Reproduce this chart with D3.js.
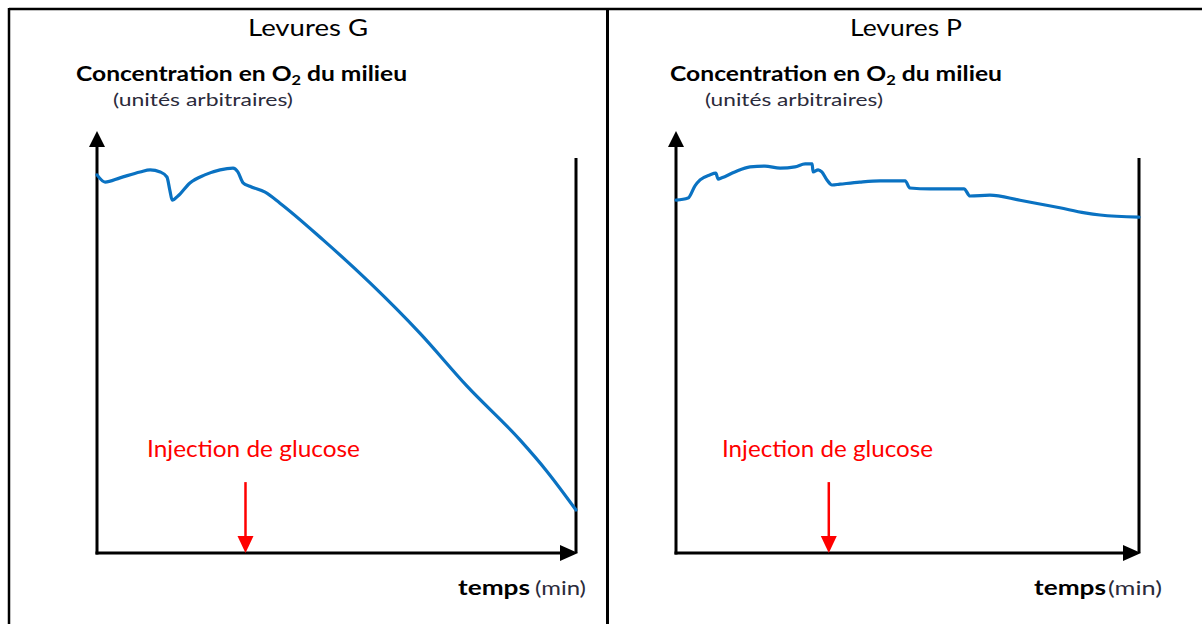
<!DOCTYPE html>
<html>
<head>
<meta charset="utf-8">
<script src="https://cdn.jsdelivr.net/npm/d3@7"></script>
<style>
  html, body { margin: 0; padding: 0; background: #fff; }
  svg { display: block; font-family: Lato, "Open Sans", sans-serif; }
</style>
</head>
<body>
<svg id="chart" width="1202" height="624"></svg>
<script>
// Levures G : concentration en O2 (unités arbitraires) en fonction du temps
const timeG = [0, 1.7, 4.8, 9, 11.1, 13.2, 14.6, 15.2, 15.7, 16.9, 19.4, 22.5, 25.7, 28.4, 29.4, 30.5, 31.9, 35.1, 38.2, 47.2, 57, 67.4, 77.2, 88.3, 93.9, 100];
const o2G = [89.6, 87.9, 88.9, 90.3, 90.8, 90.3, 89.1, 86.0, 83.6, 84.6, 87.7, 89.6, 90.8, 91.2, 90.3, 87.7, 86.9, 85.5, 82.9, 74.2, 64.0, 52.1, 39.6, 26.8, 19.4, 10.2];

// Levures P
const timeP = [0, 2.6, 4.1, 5.2, 7.3, 8.6, 9.1, 9.9, 12.7, 16, 19.2, 22.5, 25.7, 27.9, 29.4, 29.6, 30.7, 31.5, 32.6, 33.7, 35.4, 39.7, 44.1, 49.5, 50.5, 54.9, 62.2, 63.5, 67.8, 74.3, 82.9, 88.3, 91.6, 100];
const o2P = [83.6, 84.1, 87.0, 88.4, 89.6, 90.0, 88.6, 88.9, 90.3, 91.5, 91.7, 91.2, 91.5, 92.2, 92.2, 90.3, 90.8, 90.3, 88.4, 87.2, 87.4, 87.9, 88.2, 88.2, 86.5, 86.3, 86.3, 84.6, 84.8, 83.6, 81.8, 80.6, 80.1, 79.6];

// moment de l'injection de glucose (même unité que le temps)
const injectionTime = { G: 31, P: 33 };
const titles = { G: 'Levures G', P: 'Levures P' };
const yDomain = [0, 100];
const xDomain = [0, 100];
const frameTop = 93.6; // haut du trait vertical de droite

const svg = d3.select('#chart');

// cadre du tableau
svg.append('line').attr('x1', 9).attr('x2', 1202).attr('y1', 9).attr('y2', 9)
  .attr('stroke', '#000').attr('stroke-width', 2.5);
svg.append('line').attr('x1', 9).attr('x2', 9).attr('y1', 8).attr('y2', 624)
  .attr('stroke', '#000').attr('stroke-width', 2.5);
svg.append('line').attr('x1', 607.5).attr('x2', 607.5).attr('y1', 8).attr('y2', 624)
  .attr('stroke', '#000').attr('stroke-width', 3);

const panels = [
  { key: 'G', time: timeG, o2: o2G, x0: 97, x1: 576, titleX: 248, titleW: 120,
    labelX: 76, labelW: 331, unitX: 113, unitW: 180, tempsX: 458, tempsW: 72, minX: 535, minW: 51,
    injX: 147, injW: 213 },
  { key: 'P', time: timeP, o2: o2P, x0: 676, x1: 1139, titleX: 850, titleW: 112,
    labelX: 670, labelW: 332, unitX: 705, unitW: 178, tempsX: 1034, tempsW: 72, minX: 1108, minW: 54,
    injX: 722, injW: 211 }
];

function drawPanel(p) {
  const g = svg.append('g');
  const x = d3.scaleLinear().domain(xDomain).range([p.x0, p.x1]);
  const y = d3.scaleLinear().domain(yDomain).range([553, 131]);

  // titre
  g.append('text').attr('x', p.titleX).attr('y', 36)
    .attr('textLength', p.titleW).attr('lengthAdjust', 'spacingAndGlyphs')
    .attr('font-size', 24).attr('fill', '#000').text(titles[p.key]);

  // légende de l'axe vertical
  const lab = g.append('text').attr('x', p.labelX).attr('y', 81)
    .attr('textLength', p.labelW).attr('lengthAdjust', 'spacingAndGlyphs')
    .attr('font-size', 21).attr('font-weight', 'bold').attr('fill', '#000');
  lab.append('tspan').text('Concentration en O');
  lab.append('tspan').attr('font-size', 14).attr('dy', 4).text('2');
  lab.append('tspan').attr('dy', -4).text(' du milieu');

  g.append('text').attr('x', p.unitX).attr('y', 106)
    .attr('textLength', p.unitW).attr('lengthAdjust', 'spacingAndGlyphs')
    .attr('font-size', 17).attr('fill', '#2b2b3b').text('(unités arbitraires)');

  // axes avec flèches
  g.append('line').attr('x1', x(0)).attr('x2', x(0)).attr('y1', y(0) + 1.5).attr('y2', y(yDomain[1]) + 12)
    .attr('stroke', '#000').attr('stroke-width', 3);
  g.append('path')
    .attr('d', `M${x(0)},${y(yDomain[1])} L${x(0) - 8},${y(yDomain[1]) + 16} L${x(0) + 8},${y(yDomain[1]) + 16} Z`)
    .attr('fill', '#000');

  const xEnd = x(xDomain[1]) + 2;
  g.append('line').attr('x1', x(0) - 1.5).attr('x2', xEnd - 12).attr('y1', y(0)).attr('y2', y(0))
    .attr('stroke', '#000').attr('stroke-width', 3);
  g.append('path')
    .attr('d', `M${xEnd},${y(0)} L${xEnd - 18},${y(0) - 8} L${xEnd - 18},${y(0) + 8} Z`)
    .attr('fill', '#000');

  // trait vertical de droite
  g.append('line').attr('x1', x(xDomain[1])).attr('x2', x(xDomain[1]))
    .attr('y1', y(frameTop)).attr('y2', y(0))
    .attr('stroke', '#000').attr('stroke-width', 3);

  // courbe
  const line = d3.line()
    .x((d, i) => x(p.time[i]))
    .y(d => y(d))
    .curve(d3.curveMonotoneX);
  g.append('path').datum(p.o2).attr('d', line)
    .attr('fill', 'none').attr('stroke', '#0a72c2').attr('stroke-width', 3.2)
    .attr('stroke-linejoin', 'round').attr('stroke-linecap', 'round');

  // injection de glucose
  const xi = x(injectionTime[p.key]);
  g.append('text').attr('x', p.injX).attr('y', 457)
    .attr('textLength', p.injW).attr('lengthAdjust', 'spacingAndGlyphs')
    .attr('font-size', 24).attr('fill', '#ff0000').text('Injection de glucose');
  g.append('line').attr('x1', xi).attr('x2', xi).attr('y1', y(16.8)).attr('y2', y(0) - 12)
    .attr('stroke', '#ff0000').attr('stroke-width', 2.5);
  g.append('path')
    .attr('d', `M${xi},${y(0)} L${xi - 8},${y(0) - 17} L${xi + 8},${y(0) - 17} Z`)
    .attr('fill', '#ff0000');

  // légende de l'axe horizontal
  g.append('text').attr('x', p.tempsX).attr('y', 595)
    .attr('textLength', p.tempsW).attr('lengthAdjust', 'spacingAndGlyphs')
    .attr('font-size', 21).attr('font-weight', 'bold').attr('fill', '#000').text('temps');
  g.append('text').attr('x', p.minX).attr('y', 595)
    .attr('textLength', p.minW).attr('lengthAdjust', 'spacingAndGlyphs')
    .attr('font-size', 19).attr('fill', '#2b2b3b').text('(min)');
}

panels.forEach(drawPanel);
</script>
</body>
</html>
